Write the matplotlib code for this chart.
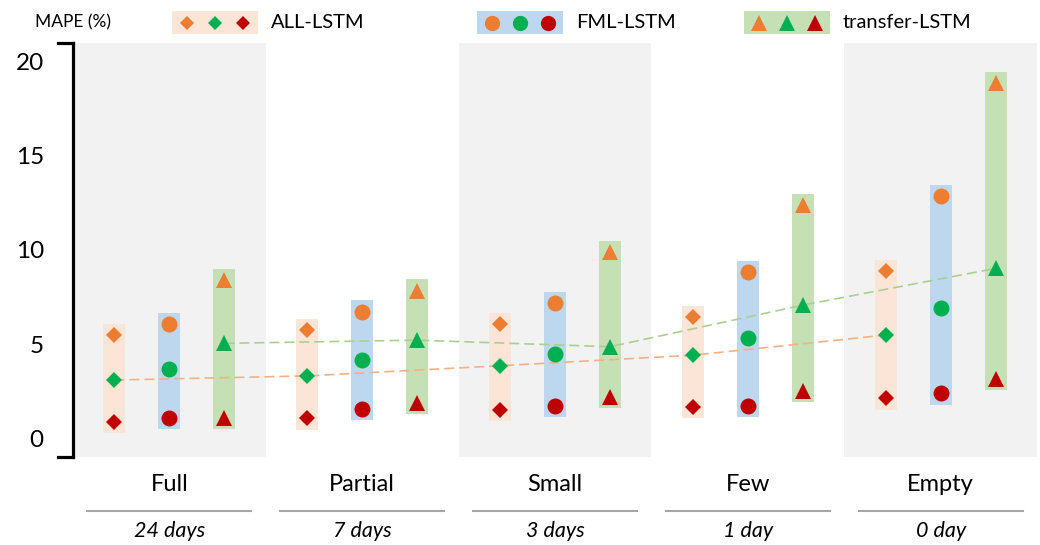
import matplotlib
matplotlib.use("Agg")
import matplotlib.pyplot as plt
from matplotlib.patches import Rectangle

plt.rcParams['font.family'] = ['Lato', 'DejaVu Sans']

# données (MAPE %)
categories = ['Full', 'Partial', 'Small', 'Few', 'Empty']
durees = ['24 days', '7 days', '3 days', '1 day', '0 day']
modeles = ['ALL-LSTM', 'FML-LSTM', 'transfer-LSTM']

all_hi = [5.48, 5.74, 6.06, 6.44, 8.88]
all_mid = [3.09, 3.31, 3.85, 4.41, 5.48]
all_lo = [0.87, 1.05, 1.49, 1.68, 2.11]

fml_hi = [6.06, 6.72, 7.18, 8.83, 12.87]
fml_mid = [3.67, 4.15, 4.47, 5.30, 6.93]
fml_lo = [1.08, 1.56, 1.72, 1.70, 2.38]

tr_hi = [8.40, 7.84, 9.88, 12.39, 18.87]
tr_mid = [5.04, 5.21, 4.86, 7.07, 9.02]
tr_lo = [1.08, 1.88, 2.20, 2.50, 3.17]

yticks = [0, 5, 10, 15, 20]

# couleurs
c_hi = '#ED7D31'
c_mid = '#00B050'
c_lo = '#C00000'
bandes = ['#FBE5D6', '#BDD7EE', '#C5E0B4']
tirets = ['#F4B183', '#A9D18E']
marqueurs = ['D', 'o', '^']
tailles = [8, 11.5, 11.5]

fig = plt.figure(figsize=(10.4, 5.45), dpi=100)
ax = fig.add_axes([73/1040, 1 - 457/545, 964/1040, 414/545])

x = list(range(len(categories)))
decal = [-0.285, 0.0, 0.285]
pad = 0.6
larg = 0.114

# panneaux gris un sur deux
for i in x:
    if i % 2 == 0:
        ax.axvspan(i - 0.5, i + 0.5, color='#F2F2F2', zorder=0, lw=0)

series = [(all_lo, all_mid, all_hi), (fml_lo, fml_mid, fml_hi), (tr_lo, tr_mid, tr_hi)]

for k, (lo, mid, hi) in enumerate(series):
    xs = [xi + decal[k] for xi in x]
    bas = [v - pad for v in lo]
    haut = [h - l + 2 * pad for h, l in zip(hi, lo)]
    ax.bar(xs, haut, bottom=bas, width=larg, color=bandes[k], zorder=1, lw=0)
    for vals, c in [(hi, c_hi), (mid, c_mid), (lo, c_lo)]:
        ax.plot(xs, vals, ls='none', marker=marqueurs[k], ms=tailles[k],
                color=c, mew=0, zorder=4)

# lignes pointillées (tendance des valeurs médianes)
ax.plot([xi + decal[0] for xi in x], all_mid, ls=(0, (6, 3)), lw=1.2,
        color=tirets[0], zorder=3)
ax.plot([xi + decal[2] for xi in x], tr_mid, ls=(0, (6, 3)), lw=1.2,
        color=tirets[1], zorder=3)

ax.set_xlim(-0.5, 4.5)
ax.set_ylim(-1, 21)
ax.set_yticks(yticks)
ax.set_xticks([])
ax.tick_params(axis='y', length=0, pad=21, labelsize=17.5)
for s in ['top', 'right', 'bottom']:
    ax.spines[s].set_visible(False)
ax.spines['left'].set_linewidth(2.3)
ax.spines['left'].set_color('black')
# crochets de l'axe
for yy in [0, 1]:
    ax.plot([-0.0156, 0], [yy, yy], transform=ax.transAxes, color='black',
            lw=2.3, clip_on=False, solid_capstyle='projecting')

# étiquettes des catégories sous l'axe
for i in x:
    ax.text(i, -2.45, categories[i], ha='center', va='center', fontsize=17,
            clip_on=False)
    ax.plot([i - 0.425, i + 0.425], [-3.85, -3.85], color='#A6A6A6', lw=1.5,
            clip_on=False)
    ax.text(i, -4.95, durees[i], ha='center', va='center', fontsize=15.5,
            style='italic', clip_on=False)

# légende en haut
lg = fig.add_axes([0, 0, 1, 1], zorder=10)
lg.set_xlim(0, 1040)
lg.set_ylim(545, 0)
lg.axis('off')
lg.text(35, 22, 'MAPE (%)', ha='left', va='center', fontsize=12.5)
boites = [172, 477, 744]
for k, bx in enumerate(boites):
    lg.add_patch(Rectangle((bx, 11), 86, 23, color=bandes[k], lw=0))
    for j, c in enumerate([c_hi, c_mid, c_lo]):
        lg.plot(bx + 15 + 28 * j, 22.5, marker=marqueurs[k], ms=tailles[k] - 0.5,
                color=c, mew=0)
    lg.text(bx + 99, 22, modeles[k], ha='left', va='center', fontsize=14.5)

fig.savefig('out.png', dpi=100)
